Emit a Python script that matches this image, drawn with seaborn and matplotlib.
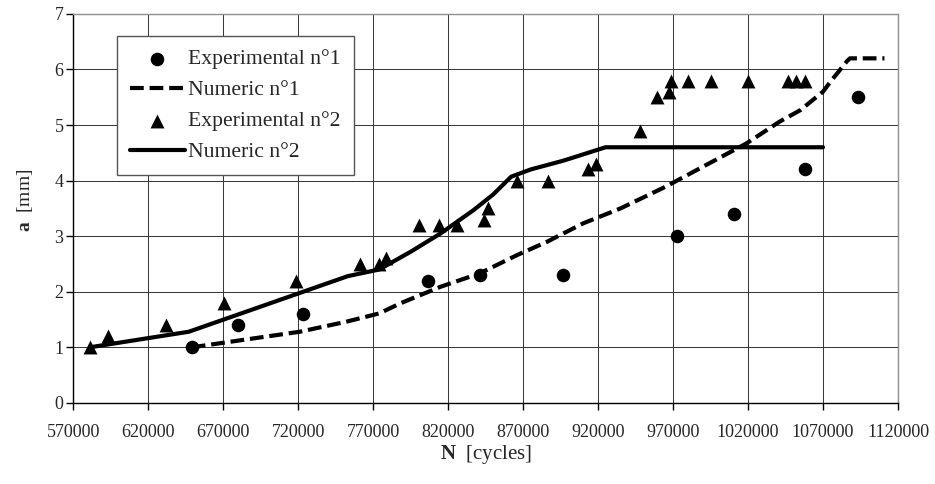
import matplotlib
matplotlib.use("Agg")
import matplotlib.pyplot as plt
import seaborn as sns
import pandas as pd

# ---- data ----
exp1_N = [649000, 679600, 723000, 806700, 841000, 896700, 972300, 1010500, 1058300, 1093400]
exp1_a = [1.0, 1.4, 1.6, 2.2, 2.3, 2.3, 3.0, 3.4, 4.2, 5.5]

exp2_N = [581000, 592900, 631600, 670700, 718500, 761100, 774000, 778500, 800700, 813800,
          826000, 843800, 846300, 865600, 886300, 913300, 918500, 947800, 959400, 967100,
          968900, 980000, 995100, 1020000, 1046700, 1052200, 1057800]
exp2_a = [1.0, 1.2, 1.4, 1.8, 2.2, 2.5, 2.5, 2.6, 3.2, 3.2,
          3.2, 3.3, 3.5, 4.0, 4.0, 4.2, 4.3, 4.9, 5.5, 5.6,
          5.8, 5.8, 5.8, 5.8, 5.8, 5.8, 5.8]

num1_N = [649000, 721000, 752000, 774000, 788000, 815000, 841000, 866000, 886000, 910000,
          935000, 965000, 1019000, 1041000, 1055000, 1070000, 1075000, 1086000, 1088000, 1111000]
num1_a = [1.0, 1.28, 1.46, 1.61, 1.79, 2.09, 2.33, 2.66, 2.90, 3.23,
          3.50, 3.89, 4.67, 5.06, 5.27, 5.6, 5.78, 6.15, 6.2, 6.2]

num2_N = [581000, 647000, 753000, 774000, 795000, 815000, 837000, 850000, 862000, 875000,
          897000, 925000, 1070000]
num2_a = [1.0, 1.28, 2.28, 2.40, 2.72, 3.05, 3.47, 3.75, 4.07, 4.20,
          4.36, 4.6, 4.6]

x_ticks = [570000, 620000, 670000, 720000, 770000, 820000, 870000, 920000, 970000,
           1020000, 1070000, 1120000]
y_ticks = [0, 1, 2, 3, 4, 5, 6, 7]

labels = ["Experimental n°1", "Numeric n°1", "Experimental n°2", "Numeric n°2"]

# ---- style ----
sns.set_style("white")
plt.rcParams["font.family"] = ["Liberation Serif", "DejaVu Serif"]
plt.rcParams["mathtext.fontset"] = "custom"
plt.rcParams["mathtext.rm"] = "Liberation Serif"
plt.rcParams["mathtext.bf"] = "Liberation Serif:bold"

fig = plt.figure(figsize=(9.35, 4.84), dpi=100)
ax = fig.add_axes([0.0784, 0.1676, 0.882, 0.8037])

df_e1 = pd.DataFrame({"N": exp1_N, "a": exp1_a})
df_e2 = pd.DataFrame({"N": exp2_N, "a": exp2_a})
df_n1 = pd.DataFrame({"N": num1_N, "a": num1_a})
df_n2 = pd.DataFrame({"N": num2_N, "a": num2_a})

sns.scatterplot(data=df_e1, x="N", y="a", ax=ax, marker="o", s=95, color="black",
                edgecolor="black", linewidth=0, label=labels[0], zorder=4)
sns.lineplot(data=df_n1, x="N", y="a", ax=ax, sort=False, color="black",
             label=labels[1], zorder=3)
sns.scatterplot(data=df_e2, x="N", y="a", ax=ax, marker="^", s=100, color="black",
                edgecolor="black", linewidth=0, label=labels[2], zorder=4)
sns.lineplot(data=df_n2, x="N", y="a", ax=ax, sort=False, color="black",
             label=labels[3], zorder=3)

lines = ax.get_lines()
lines[0].set_linewidth(3.0)
lines[0].set_linestyle((0, (3.3, 1.4)))
lines[0].set_solid_capstyle("butt")
lines[1].set_linewidth(3.0)

ax.set_xlim(570000, 1120000)
ax.set_ylim(0, 7)
ax.set_xticks(x_ticks)
ax.set_xticklabels([str(v) for v in x_ticks], fontsize=13)
ax.set_yticks(y_ticks)
ax.set_yticklabels([str(v) for v in y_ticks], fontsize=13)

ax.grid(True, color="#3a3a3a", lw=0.75)
ax.set_axisbelow(True)
for s in ["top", "right"]:
    ax.spines[s].set_color("#909090")
    ax.spines[s].set_linewidth(1.0)
for s in ["left", "bottom"]:
    ax.spines[s].set_color("black")
    ax.spines[s].set_linewidth(1.0)
ax.tick_params(axis="both", direction="out", length=5, width=1, color="black",
               bottom=True, left=True)
ax.tick_params(axis="x", pad=10)
ax.tick_params(axis="y", pad=2)

ax.set_xlabel(r"$\mathbf{N}$  [cycles]", fontsize=15, labelpad=2)
ax.set_ylabel(r"$\mathbf{a}$  [mm]", fontsize=14)
ax.yaxis.set_label_coords(-0.047, 0.52)

leg = ax.legend(loc="upper left", bbox_to_anchor=(0.0526, 0.943), fontsize=15.6,
                frameon=True, fancybox=False, framealpha=1, edgecolor="#555555",
                handlelength=2.55, handletextpad=0.15, labelspacing=0.5,
                borderpad=0.6, borderaxespad=0)
leg.get_frame().set_linewidth(1.0)
for h in leg.legend_handles:
    if h.__class__.__name__ == "Line2D":
        h.set_linewidth(3.0)
leg.legend_handles[1].set_linestyle((0, (3.3, 1.4)))

fig.savefig("out.png", dpi=100)
